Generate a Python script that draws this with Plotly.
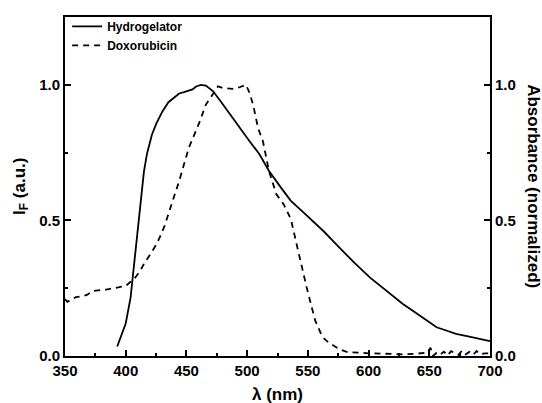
import plotly.graph_objects as go

# Hydrogelator fluorescence (solid)
hyd_x = [393, 396, 400, 404, 408, 412, 415, 417.5, 419.5, 421.5, 425, 430, 435, 440, 444, 448, 452, 455, 458, 462,
         466, 472, 478, 485, 490, 496, 502, 510, 518, 528, 536, 545, 552, 563, 576, 588, 601, 615, 628, 637, 645,
         650, 656, 664, 672, 682, 692, 700]
hyd_y = [0.035, 0.07, 0.12, 0.215, 0.385, 0.57, 0.68, 0.745, 0.785, 0.815, 0.855, 0.9, 0.935, 0.955, 0.968, 0.973,
         0.978, 0.983, 0.994, 1.0, 0.997, 0.976, 0.94, 0.896, 0.868, 0.83, 0.792, 0.745, 0.682, 0.62, 0.572, 0.535,
         0.505, 0.46, 0.40, 0.345, 0.29, 0.24, 0.193, 0.165, 0.14, 0.125, 0.106, 0.094, 0.082, 0.072, 0.061, 0.055]

# Doxorubicin absorbance (dashed)
dox_x = [350, 352, 356, 359, 364, 368, 373, 378, 384, 390, 395, 400, 403, 406, 409, 412, 415, 419, 422, 425, 428,
         432, 437, 444, 452, 461, 466, 472, 476, 480, 484, 488, 492, 496, 499, 502, 505, 509, 513, 518, 524, 530,
         536, 542, 549, 556, 562, 567, 571, 576, 582, 590, 600, 610, 620, 628, 638, 645, 648, 651, 653, 656, 659,
         662, 665, 668, 671, 674, 677, 680, 683, 686, 689, 692, 696, 700]
dox_y = [0.21, 0.20, 0.21, 0.217, 0.22, 0.225, 0.24, 0.242, 0.245, 0.25, 0.253, 0.258, 0.27, 0.28, 0.296, 0.315,
         0.339, 0.37, 0.388, 0.41, 0.437, 0.48, 0.547, 0.645, 0.768, 0.865, 0.927, 0.97, 0.994, 0.988, 0.986, 0.985,
         0.988, 0.995, 1.0, 0.97, 0.925, 0.84, 0.792, 0.682, 0.597, 0.56, 0.505, 0.388, 0.253, 0.131, 0.07, 0.05,
         0.039, 0.025, 0.015, 0.012, 0.01, 0.009, 0.008, 0.006, 0.008, 0.009, 0.012, 0.03, 0.0, 0.012, 0.005,
         0.016, 0.002, 0.018, 0.01, 0.004, 0.02, 0.006, 0.015, 0.004, 0.018, 0.006, 0.01, 0.01]

x_ticks = [350, 400, 450, 500, 550, 600, 650, 700]
y_ticks = [0.0, 0.5, 1.0]
y_tick_labels = ["0.0", "0.5", "1.0"]

FONT = "Liberation Sans, Arial, sans-serif"

fig = go.Figure()
fig.add_trace(go.Scatter(x=hyd_x, y=hyd_y, mode="lines", name="Hydrogelator",
                         line=dict(color="black", width=1.8), yaxis="y"))
fig.add_trace(go.Scatter(x=dox_x, y=dox_y, mode="lines", name="Doxorubicin",
                         line=dict(color="black", width=1.8, dash="6px,5px"), yaxis="y2"))

axis_common = dict(showline=True, linecolor="black", linewidth=2, ticks="inside", ticklen=6, tickwidth=2,
                   tickcolor="black", showgrid=False, zeroline=False,
                   tickfont=dict(family=FONT, size=15, color="black", weight="bold"))

fig.update_layout(
    width=542, height=403,
    margin=dict(l=65, r=52, t=14, b=47),
    paper_bgcolor="white", plot_bgcolor="white",
    showlegend=True,
    legend=dict(x=0.005, y=1.015, xanchor="left", yanchor="top", bgcolor="rgba(0,0,0,0)",
                font=dict(family=FONT, size=12, color="black", weight="bold"),
                itemwidth=30, tracegroupgap=0),
    xaxis=dict(range=[350, 700], tickvals=x_ticks, mirror=True,
               minor=dict(dtick=25, ticks="inside", ticklen=3, tickwidth=2, tickcolor="black"),
               **axis_common),
    yaxis=dict(range=[0, 1.25], tickvals=y_ticks, ticktext=y_tick_labels,
               minor=dict(tickvals=[0.25, 0.75], ticks="inside", ticklen=3, tickwidth=2, tickcolor="black"),
               **axis_common),
    yaxis2=dict(range=[0, 1.25], tickvals=y_ticks, ticktext=y_tick_labels, overlaying="y", side="right",
                minor=dict(tickvals=[0.25, 0.75], ticks="inside", ticklen=3, tickwidth=2, tickcolor="black"),
                **axis_common),
)

fig.add_annotation(text="λ (nm)", xref="paper", yref="paper", x=0.5, y=-0.113, xanchor="center", yanchor="middle",
                   showarrow=False, font=dict(family=FONT, size=17, color="black", weight="bold"))
fig.add_annotation(text="I<sub>F</sub> (a.u.)", xref="paper", yref="paper", x=-0.105, y=0.5, xanchor="center",
                   yanchor="middle", textangle=-90, showarrow=False,
                   font=dict(family=FONT, size=17, color="black", weight="bold"))
fig.add_annotation(text="Absorbance (normalized)", xref="paper", yref="paper", x=1.102, y=0.5, xanchor="center",
                   yanchor="middle", textangle=90, showarrow=False,
                   font=dict(family=FONT, size=17, color="black", weight="bold"))

fig.write_html("out.html", config={"displayModeBar": False},
               post_script="document.body.style.margin='0px';")
